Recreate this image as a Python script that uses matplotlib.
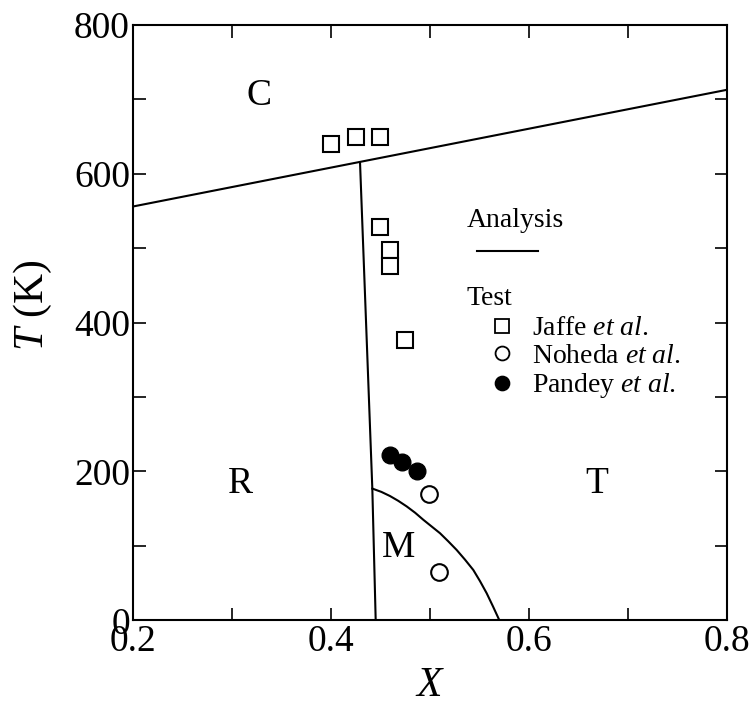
import matplotlib
matplotlib.use('Agg')
import matplotlib.pyplot as plt
from matplotlib.ticker import MultipleLocator

plt.rcParams['font.family'] = ['Liberation Serif', 'DejaVu Serif']
plt.rcParams['mathtext.fontset'] = 'custom'
plt.rcParams['mathtext.rm'] = 'Liberation Serif'
plt.rcParams['mathtext.it'] = 'Liberation Serif:italic'

# lineas del analisis
linea_C_x = [0.2, 0.8]
linea_C_T = [556, 713]
linea_RT_x = [0.4294, 0.4418, 0.4452]
linea_RT_T = [615, 177, 0]
curva_M_x = [0.4418, 0.4510, 0.4596, 0.4680, 0.4765, 0.4850, 0.4933, 0.5017,
             0.5101, 0.5185, 0.5269, 0.5353, 0.5437, 0.5505, 0.5572, 0.5636, 0.5700]
curva_M_T = [177, 172.5, 167, 160.5, 153, 144.5, 135, 126,
             117, 106, 94.5, 81.5, 67.6, 52.5, 36.3, 18.5, 0]

# datos experimentales
jaffe_x = [0.40, 0.425, 0.45, 0.45, 0.46, 0.46, 0.475]
jaffe_T = [640, 649, 649, 528, 498, 476, 377]
noheda_x = [0.499, 0.509]
noheda_T = [170, 65]
pandey_x = [0.460, 0.472, 0.487]
pandey_T = [222, 213, 201]

# etiquetas de fases
fases = ['C', 'R', 'T', 'M']
fases_x = [0.327, 0.309, 0.668, 0.468]
fases_T = [705, 184, 184, 97]

fig = plt.figure(figsize=(7.53, 7.08), dpi=100)
ax = fig.add_axes([0.1762, 0.1239, 0.7897, 0.8408])

ax.plot(linea_C_x, linea_C_T, 'k-', lw=1.5)
ax.plot(linea_RT_x, linea_RT_T, 'k-', lw=1.5)
ax.plot(curva_M_x, curva_M_T, 'k-', lw=1.5)

ax.plot(jaffe_x, jaffe_T, 's', ms=11.5, mfc='white', mec='black', mew=1.5, ls='none')
ax.plot(noheda_x, noheda_T, 'o', ms=12, mfc='white', mec='black', mew=1.5, ls='none')
ax.plot(pandey_x, pandey_T, 'o', ms=12, mfc='black', mec='black', mew=1.0, ls='none')

for f, x, t in zip(fases, fases_x, fases_T):
    ax.text(x, t, f, fontsize=27, ha='center', va='center')

# leyenda hecha a mano
ax.text(0.5617, 0.6612, 'Analysis', transform=ax.transAxes, fontsize=20, va='baseline')
ax.plot([0.5785, 0.6821], [0.6204, 0.6204], 'k-', lw=1.5, transform=ax.transAxes)
ax.text(0.5617, 0.5297, 'Test', transform=ax.transAxes, fontsize=20, va='baseline')
ley_y = [0.4944, 0.4485, 0.3991]
ley_txt = [r'Jaffe $et\ al.$', r'Noheda $et\ al.$', r'Pandey $et\ al.$']
ley_mk = [('s', 'white'), ('o', 'white'), ('o', 'black')]
for y, txt, (m, fc) in zip(ley_y, ley_txt, ley_mk):
    ax.plot([0.6206], [y], m, ms=10, mfc=fc, mec='black', mew=1.3, transform=ax.transAxes)
    ax.text(0.671, y - 0.016, txt, transform=ax.transAxes, fontsize=20, va='baseline')

ax.set_xlim(0.2, 0.8)
ax.set_ylim(0, 800)
ax.xaxis.set_major_locator(MultipleLocator(0.2))
ax.xaxis.set_minor_locator(MultipleLocator(0.1))
ax.yaxis.set_major_locator(MultipleLocator(200))
ax.yaxis.set_minor_locator(MultipleLocator(100))
ax.xaxis.set_major_formatter(plt.FuncFormatter(lambda v, p: '%.1f' % v))
ax.tick_params(which='both', direction='in', length=9, width=1.2, top=True, right=True)
ax.tick_params(axis='x', labelsize=27, pad=3)
ax.tick_params(axis='y', labelsize=27, pad=2)
for s in ax.spines.values():
    s.set_linewidth(1.5)

ax.set_xlabel(r'$X$', fontsize=30)
ax.set_ylabel(r'$T$ (K)', fontsize=30)
ax.xaxis.set_label_coords(0.5, -0.078)
ax.yaxis.set_label_coords(-0.132, 0.53)

fig.savefig('out.png', dpi=100)
